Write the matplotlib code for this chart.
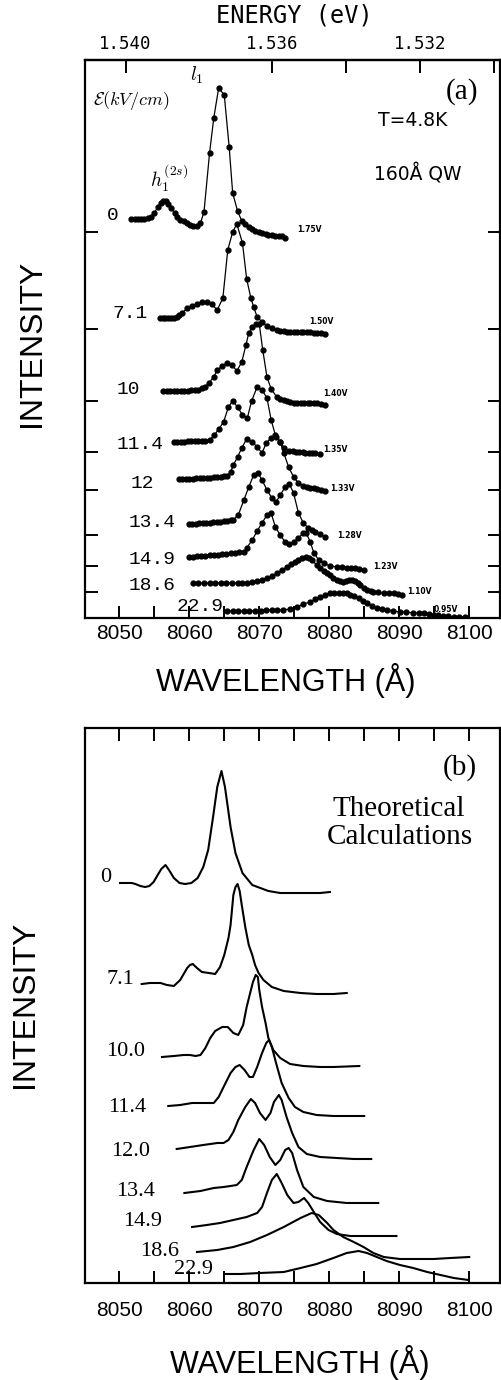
import numpy as np
import matplotlib.pyplot as plt

plt.rcParams['mathtext.fontset'] = 'cm'

# field values (kV/cm) and bias for each spectrum, top to bottom
fields_a = ['0', '7.1', '10', '11.4', '12', '13.4', '14.9', '18.6', '22.9']
bias_a = ['1.75V', '1.50V', '1.40V', '1.35V', '1.33V', '1.28V', '1.23V', '1.10V', '0.95V']
fields_b = ['0', '7.1', '10.0', '11.4', '12.0', '13.4', '14.9', '18.6', '22.9']
baselines_a = [386, 289, 217, 166, 128, 83, 52, 26]

energy_ticks = [1.540, 1.536, 1.534, 1.532, 1.530]
energy_labels = ['1.540', '1.536', '', '1.532', '']
wl_major = [8050, 8060, 8070, 8080, 8090, 8100]
wl_minor = [8055, 8065, 8075, 8085, 8095]

# ---- (a) measured spectra (stacked intensity, arb. units)
wl_a0 = [8051.7, 8052.2, 8052.7, 8053.1, 8053.6, 8054.1, 8054.6, 8055.0, 8055.5, 8055.9,
         8056.3, 8056.7, 8057.0, 8057.4, 8057.9, 8058.2, 8058.7, 8059.2, 8059.7, 8060.1,
         8060.6, 8061.1, 8061.6, 8062.1, 8062.9, 8063.5, 8064.2, 8065.0, 8065.7, 8066.2,
         8066.9, 8067.5, 8068.0, 8068.5, 8069.0, 8069.4, 8069.9, 8070.4, 8070.9, 8071.3,
         8071.8, 8072.3, 8072.8, 8073.2, 8073.7]
in_a0 = [399, 399, 399, 399, 399, 400, 401, 405, 411, 415, 417, 417, 414, 410, 405, 401,
         398, 397, 395, 393, 392, 392, 395, 406, 465, 500, 530, 523, 471, 425, 407, 397,
         394, 391, 389, 387, 386, 385, 384, 383, 383, 382, 382, 382, 380]

wl_a1 = [8055.8, 8056.2, 8056.6, 8057.0, 8057.4, 8057.8, 8058.2, 8058.6, 8059.0, 8059.7,
         8060.4, 8061.1, 8061.8, 8062.5, 8063.2, 8064.0, 8064.8, 8065.5, 8066.2, 8066.8,
         8067.6, 8068.2, 8068.8, 8069.2, 8069.7, 8070.4, 8071.1, 8071.8, 8072.5, 8073.0,
         8073.5, 8074.0, 8074.4, 8074.9, 8075.4, 8075.9, 8076.3, 8076.8, 8077.3, 8077.8,
         8078.2, 8078.8, 8079.4]
in_a1 = [300, 300, 300, 300, 300, 300, 301, 303, 305, 310, 312, 314, 316, 316, 314, 308,
         320, 368, 386, 394, 375, 339, 320, 311, 301, 296, 292, 290, 288, 287, 287, 286,
         286, 286, 286, 286, 286, 286, 286, 285, 285, 285, 284]

wl_a2 = [8056.3, 8056.8, 8057.3, 8057.8, 8058.3, 8058.8, 8059.3, 8059.8, 8060.3, 8060.8,
         8061.3, 8061.8, 8062.2, 8062.8, 8063.5, 8064.0, 8064.7, 8065.4, 8066.1, 8066.8,
         8067.5, 8068.1, 8068.5, 8069.0, 8069.6, 8070.0, 8070.5, 8071.1, 8071.7, 8072.5,
         8073.0, 8073.5, 8074.0, 8074.4, 8074.9, 8075.4, 8075.9, 8076.4, 8076.9, 8077.3,
         8077.8, 8078.3, 8078.8, 8079.4]
in_a2 = [227, 227, 227, 227, 227, 227, 227, 227, 228, 228, 228, 230, 231, 235, 241, 248,
         252, 255, 253, 247, 256, 273, 285, 291, 294, 294, 268, 241, 229, 221, 219, 218,
         217, 216, 215, 215, 215, 215, 215, 215, 215, 215, 214, 213]

wl_a3 = [8057.8, 8058.3, 8058.8, 8059.3, 8059.8, 8060.3, 8060.8, 8061.3, 8061.8, 8062.3,
         8062.9, 8063.6, 8064.2, 8064.9, 8065.6, 8066.2, 8066.9, 8067.6, 8068.3, 8068.9,
         8069.7, 8070.4, 8071.1, 8071.7, 8072.3, 8072.9, 8073.6, 8074.3, 8074.8, 8075.2,
         8075.7, 8076.2, 8076.6, 8077.1, 8077.6, 8078.0, 8078.7]
in_a3 = [176, 176, 176, 176, 177, 177, 177, 177, 177, 177, 178, 183, 189, 196, 211, 217,
         211, 203, 200, 217, 231, 228, 220, 198, 183, 176, 170, 167, 167, 166, 166, 166,
         165, 165, 165, 165, 164]

wl_a4 = [8058.5, 8059.0, 8059.5, 8060.0, 8060.5, 8061.0, 8061.5, 8062.0, 8062.5, 8063.0,
         8063.5, 8064.0, 8064.5, 8065.0, 8065.4, 8065.9, 8066.3, 8066.9, 8067.5, 8068.2,
         8069.0, 8069.7, 8070.4, 8071.0, 8071.7, 8072.4, 8073.0, 8073.5, 8074.2, 8074.9,
         8075.6, 8076.3, 8076.8, 8077.3, 8077.8, 8078.2, 8078.8, 8079.4]
in_a4 = [139, 139, 139, 139, 139, 140, 140, 140, 140, 140, 141, 141, 141, 142, 142, 146,
         153, 161, 170, 179, 176, 171, 165, 175, 180, 181, 176, 165, 151, 141, 135, 132,
         131, 130, 130, 129, 128, 127]

wl_a5 = [8059.9, 8060.4, 8060.9, 8061.4, 8061.9, 8062.4, 8062.9, 8063.4, 8063.9, 8064.4,
         8064.9, 8065.4, 8065.9, 8066.3, 8067.0, 8067.8, 8068.5, 8069.2, 8069.8, 8070.4,
         8071.1, 8071.8, 8072.4, 8073.0, 8073.7, 8074.3, 8074.9, 8075.6, 8076.3, 8077.0,
         8077.5, 8078.0, 8078.7, 8079.4]
in_a5 = [94, 94, 94, 95, 95, 95, 95, 96, 96, 96, 97, 97, 98, 98, 103, 118, 131, 143, 145,
         138, 128, 120, 116, 123, 131, 134, 125, 105, 95, 90, 88, 86, 84, 81]

wl_a6 = [8059.9, 8060.5, 8061.1, 8061.7, 8062.3, 8062.9, 8063.5, 8064.1, 8064.7, 8065.3,
         8065.9, 8066.5, 8067.1, 8067.8, 8068.2, 8069.0, 8069.7, 8070.4, 8071.1, 8071.7,
         8072.3, 8073.0, 8073.7, 8074.3, 8074.9, 8075.6, 8076.3, 8076.7, 8077.3, 8077.8,
         8078.5, 8079.2, 8080.1, 8081.1, 8081.8, 8082.5, 8083.1, 8083.7, 8084.3, 8084.9]
in_a6 = [61, 61, 62, 62, 62, 63, 63, 63, 64, 64, 65, 65, 66, 66, 70, 78, 87, 95, 103, 105,
         91, 83, 76, 74, 76, 80, 85, 85, 76, 65, 58, 55, 52, 51, 51, 50, 50, 50, 49, 48]

wl_a7 = [8060.5, 8061.3, 8062.1, 8062.9, 8063.7, 8064.5, 8065.3, 8066.1, 8066.9, 8067.6,
         8068.2, 8069.0, 8069.7, 8070.4, 8071.1, 8071.8, 8072.5, 8073.2, 8074.0, 8074.6,
         8075.1, 8075.6, 8076.1, 8076.7, 8077.1, 8077.5, 8078.2, 8078.7, 8079.2, 8079.7,
         8080.1, 8080.6, 8081.1, 8081.6, 8082.0, 8082.4, 8082.8, 8083.3, 8083.7, 8084.1,
         8084.4, 8084.9, 8085.4, 8085.9, 8086.3, 8087.0, 8087.8, 8088.5, 8089.2, 8089.8,
         8090.4]
in_a7 = [35, 35, 35, 35, 35, 35, 35, 35, 35, 35, 35, 36, 37, 38, 40, 42, 45, 48, 51, 54,
         56, 58, 60, 61, 60, 58, 53, 50, 47, 45, 43, 40, 38, 37, 36, 37, 38, 38, 37, 35,
         33, 30, 28, 27, 26, 26, 25, 25, 25, 24, 23]

wl_a8 = [8065.4, 8066.2, 8067.0, 8067.8, 8068.6, 8069.4, 8070.2, 8071.0, 8071.8, 8072.6,
         8073.4, 8074.4, 8075.4, 8076.3, 8077.3, 8078.0, 8078.7, 8079.4, 8080.1, 8080.7,
         8081.4, 8082.0, 8082.5, 8083.0, 8083.6, 8084.2, 8084.8, 8085.4, 8086.1, 8086.8,
         8087.5, 8088.2, 8089.1, 8090.1, 8091.0, 8092.0, 8092.8, 8093.5, 8094.2, 8094.9,
         8095.6, 8096.3, 8097.0, 8097.8, 8098.6, 8099.4]
in_a8 = [7, 7, 7, 7, 7, 7, 7, 8, 8, 8, 8, 9, 11, 14, 16, 19, 21, 23, 25, 25, 25, 25, 25,
         23, 22, 20, 17, 15, 12, 10, 9, 8, 7, 6, 6, 5, 5, 5, 4, 3, 3, 2, 2, 1, 1, 1]

# ---- (b) theoretical spectra
wl_b0 = [8050.1, 8050.7, 8051.3, 8051.8, 8052.3, 8053.0, 8053.7, 8054.3, 8054.9, 8055.4,
         8056.0, 8056.6, 8057.1, 8057.8, 8058.6, 8059.4, 8060.3, 8061.2, 8062.0, 8062.7,
         8063.4, 8064.0, 8064.6, 8065.1, 8065.9, 8066.6, 8067.6, 8069.0, 8071.3, 8073.0,
         8074.9, 8076.8, 8078.7, 8080.1]
in_b0 = [400, 400, 400, 400, 399, 397, 396, 397, 401, 407, 414, 418, 413, 405, 400, 399,
         400, 405, 416, 433, 466, 496, 512, 496, 456, 430, 410, 398, 392, 390, 390, 390,
         390, 391]

wl_b1 = [8053.2, 8054.4, 8055.9, 8056.8, 8057.8, 8058.7, 8059.2, 8059.7, 8060.1, 8060.5,
         8061.1, 8061.8, 8062.8, 8063.7, 8064.4, 8065.0, 8065.6, 8065.9, 8066.3, 8066.6,
         8066.9, 8067.2, 8067.5, 8068.0, 8068.5, 8069.0, 8069.4, 8069.9, 8070.6, 8071.8,
         8073.5, 8075.9, 8078.2, 8080.6, 8082.5]
in_b1 = [299, 300, 300, 298, 297, 303, 309, 315, 318, 319, 315, 311, 310, 309, 316, 328,
         345, 358, 388, 396, 399, 392, 378, 356, 338, 328, 318, 310, 303, 296, 292, 290,
         289, 289, 290]

wl_b2 = [8056.1, 8057.8, 8059.2, 8060.1, 8060.9, 8061.6, 8062.3, 8063.0, 8063.7, 8064.7,
         8065.5, 8066.3, 8067.0, 8067.7, 8068.2, 8068.7, 8069.1, 8069.5, 8069.8, 8070.0,
         8070.4, 8070.9, 8071.3, 8072.0, 8073.0, 8074.4, 8076.3, 8078.7, 8080.6, 8084.3]
in_b2 = [226, 227, 228, 228, 227, 228, 235, 245, 252, 256, 256, 250, 248, 258, 276, 290,
         301, 308, 306, 293, 276, 260, 245, 233, 225, 219, 217, 216, 216, 217]

wl_b3 = [8057.0, 8058.7, 8060.4, 8061.6, 8062.5, 8063.5, 8064.2, 8064.9, 8065.9, 8066.6,
         8067.2, 8067.9, 8068.6, 8069.1, 8069.7, 8070.4, 8071.0, 8071.4, 8071.8, 8072.4,
         8073.2, 8074.2, 8075.1, 8076.3, 8078.2, 8080.6, 8083.0, 8085.0]
in_b3 = [177, 178, 180, 180, 180, 180, 186, 196, 210, 216, 218, 213, 206, 206, 216, 230,
         240, 243, 236, 220, 200, 185, 176, 171, 168, 167, 167, 167]

wl_b4 = [8058.2, 8060.1, 8062.0, 8064.0, 8064.9, 8065.6, 8066.3, 8067.0, 8068.0, 8068.8,
         8069.4, 8070.1, 8070.9, 8071.6, 8072.1, 8072.8, 8073.2, 8073.9, 8074.7, 8075.6,
         8076.8, 8078.7, 8081.1, 8083.5, 8086.0]
in_b4 = [134, 136, 138, 140, 140, 143, 151, 163, 176, 184, 180, 170, 163, 170, 181, 188,
         183, 166, 150, 136, 129, 126, 125, 124, 124]

wl_b5 = [8059.3, 8061.6, 8063.5, 8064.9, 8065.9, 8066.8, 8067.5, 8068.2, 8069.2, 8070.0,
         8070.7, 8071.5, 8072.3, 8073.0, 8073.7, 8074.2, 8074.7, 8075.4, 8076.3, 8077.8,
         8079.7, 8082.5, 8085.4, 8087.0]
in_b5 = [90, 92, 95, 96, 97, 98, 103, 116, 133, 144, 138, 126, 118, 123, 133, 135, 130,
         113, 96, 86, 82, 80, 80, 80]

wl_b6 = [8060.4, 8062.5, 8064.4, 8066.3, 8068.2, 8069.7, 8070.4, 8071.1, 8071.8, 8072.5,
         8073.2, 8074.0, 8074.9, 8075.6, 8076.4, 8077.0, 8077.8, 8078.7, 8079.9, 8081.1,
         8083.0, 8085.4, 8087.8, 8089.6]
in_b6 = [56, 58, 60, 63, 66, 70, 76, 90, 103, 109, 100, 88, 80, 81, 85, 80, 71, 61, 53,
         49, 47, 47, 47, 47]

wl_b7 = [8061.1, 8064.0, 8066.3, 8068.7, 8071.1, 8073.5, 8075.9, 8077.5, 8078.5, 8079.7,
         8080.6, 8082.0, 8083.5, 8084.9, 8086.3, 8087.8, 8090.1, 8092.5, 8094.9, 8097.3,
         8100.0]
in_b7 = [31, 33, 36, 41, 48, 56, 65, 70, 68, 60, 53, 46, 41, 36, 30, 26, 24, 24, 24, 25, 26]

wl_b8 = [8065.1, 8067.3, 8070.1, 8073.5, 8075.9, 8078.2, 8080.6, 8082.5, 8084.2, 8085.4,
         8086.8, 8088.2, 8090.1, 8092.0, 8094.0, 8095.9, 8097.8, 8099.9]
in_b8 = [9, 9, 10, 11, 15, 19, 25, 30, 32, 30, 26, 22, 18, 15, 11, 8, 5, 3]

spectra_a = [(wl_a0, in_a0), (wl_a1, in_a1), (wl_a2, in_a2), (wl_a3, in_a3), (wl_a4, in_a4),
             (wl_a5, in_a5), (wl_a6, in_a6), (wl_a7, in_a7), (wl_a8, in_a8)]
spectra_b = [(wl_b0, in_b0), (wl_b1, in_b1), (wl_b2, in_b2), (wl_b3, in_b3), (wl_b4, in_b4),
             (wl_b5, in_b5), (wl_b6, in_b6), (wl_b7, in_b7), (wl_b8, in_b8)]


def to_energy(w):
    w = np.asarray(w, dtype=float)
    with np.errstate(divide='ignore'):
        return 12398.4 / w


W, H = 501, 1380
fig = plt.figure(figsize=(W / 100, H / 100), dpi=100)
ax_a = fig.add_axes([85 / W, 1 - 618 / H, 415 / W, 558 / H])
ax_b = fig.add_axes([85 / W, 1 - 1283 / H, 415 / W, 555 / H])

for ax in (ax_a, ax_b):
    ax.set_xlim(8045.1, 8104.4)
    for s in ax.spines.values():
        s.set_linewidth(1.6)
    ax.set_xticks(wl_major)
    ax.set_xticks(wl_minor, minor=True)
    ax.tick_params(which='both', direction='in', length=9, width=1.4, labelsize=15)
    for lbl in ax.get_xticklabels():
        lbl.set_family('Liberation Sans')

# panel (a)
ax_a.set_ylim(0, 558)
for wl, inten in spectra_a:
    ax_a.plot(wl, inten, '-o', color='black', lw=0.9, ms=3.5)
ax_a.set_yticks(baselines_a)
ax_a.tick_params(axis='y', which='both', left=True, right=True, labelleft=False,
                 direction='in', length=9, width=1.4)
ax_a.tick_params(axis='x', which='both', top=False, pad=4)

sec = ax_a.secondary_xaxis('top', functions=(to_energy, to_energy))
sec.set_xticks(energy_ticks, energy_labels, family='DejaVu Sans Mono', fontsize=12.5)
sec.tick_params(direction='in', length=9, width=1.4, pad=5)
sec.spines['top'].set_linewidth(1.6)

pos_a = [(8049.1, 402), (8051.6, 305), (8051.3, 229), (8052.9, 174), (8053.3, 135),
         (8054.7, 96), (8054.7, 59), (8054.7, 33), (8061.6, 12)]
for (x, y), t in zip(pos_a, fields_a):
    ax_a.text(x, y, t, ha='center', va='center', fontsize=14, family='Liberation Mono')
vpos_a = [(8075.4, 388), (8077.1, 297), (8079.1, 224), (8079.1, 169), (8080.1, 130),
          (8081.1, 83), (8086.3, 52), (8091.1, 27), (8094.9, 9)]
for (x, y), t in zip(vpos_a, bias_a):
    ax_a.text(x, y, t, ha='left', va='center', fontsize=5.5, fontweight='bold')

ax_a.text(8046.3, 518, r'$\mathcal{E}(kV/cm)$', ha='left', va='center', fontsize=13)
ax_a.text(8061.1, 543, r'$l_1$', ha='center', va='center', fontsize=14)
ax_a.text(8057.1, 440, r'$h_1^{(2s)}$', ha='center', va='center', fontsize=14)
ax_a.text(8099.0, 526, '(a)', ha='center', va='center', fontsize=21, family='Liberation Serif')
ax_a.text(8091.9, 498, 'T=4.8K', ha='center', va='center', fontsize=13.5)
ax_a.text(8092.6, 444, '160Å QW', ha='center', va='center', fontsize=13.5)

# panel (b)
ax_b.set_ylim(0, 555)
for wl, inten in spectra_b:
    ax_b.plot(wl, inten, '-', color='black', lw=1.5)
ax_b.set_yticks([])
ax_b.tick_params(axis='x', which='both', top=True, pad=13)

pos_b = [(8048.1, 406), (8050.1, 303), (8050.9, 231), (8051.1, 176), (8051.6, 131),
         (8052.3, 91), (8053.4, 61), (8055.7, 32), (8060.6, 13)]
for (x, y), t in zip(pos_b, fields_b):
    ax_b.text(x, y, t, ha='center', va='center', fontsize=16, family='Liberation Serif')
ax_b.text(8098.7, 515, '(b)', ha='center', va='center', fontsize=21, family='Liberation Serif')
ax_b.text(8090.0, 474, 'Theoretical', ha='center', va='center', fontsize=21,
          family='Liberation Serif')
ax_b.text(8090.1, 446, 'Calculations', ha='center', va='center', fontsize=21,
          family='Liberation Serif')

# axis titles
fig.text(294 / W, 1 - 15 / H, 'ENERGY (eV)', ha='center', va='center', fontsize=17,
         family='DejaVu Sans Mono')
fig.text(286 / W, 1 - 681 / H, 'WAVELENGTH (Å)', ha='center', va='center', fontsize=22,
         family='Liberation Sans')
fig.text(300 / W, 1 - 1362 / H, 'WAVELENGTH (Å)', ha='center', va='center', fontsize=22,
         family='Liberation Sans')
fig.text(32 / W, 1 - 343 / H, 'INTENSITY', rotation=90, ha='center', va='center',
         fontsize=23, family='Liberation Sans')
fig.text(25 / W, 1 - 1004 / H, 'INTENSITY', rotation=90, ha='center', va='center',
         fontsize=23, family='Liberation Sans')

fig.savefig('out.png', dpi=100)
